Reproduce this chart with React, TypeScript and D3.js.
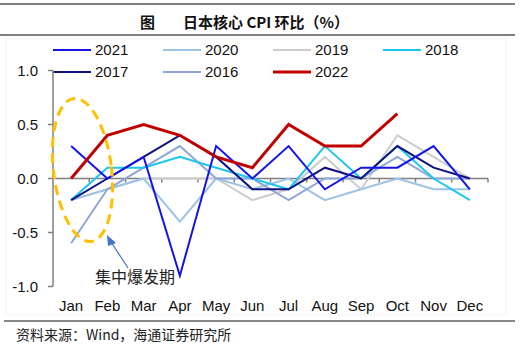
import React from "react";
import * as d3 from "d3";

const months = ["Jan", "Feb", "Mar", "Apr", "May", "Jun", "Jul", "Aug", "Sep", "Oct", "Nov", "Dec"];
const yTicks = [-1.0, -0.5, 0.0, 0.5, 1.0];

const s2021 = [0.3, 0.0, 0.2, -0.9, 0.3, 0.0, 0.3, -0.1, 0.1, 0.1, 0.3, -0.1];
const s2020 = [-0.2, -0.1, 0.0, -0.4, 0.0, -0.1, 0.0, -0.2, -0.1, 0.0, -0.1, -0.1];
const s2019 = [-0.2, -0.1, 0.0, 0.0, 0.0, -0.2, -0.1, 0.2, -0.1, 0.4, 0.2, 0.0];
const s2018 = [-0.2, 0.1, 0.1, 0.2, 0.1, 0.0, -0.1, 0.3, 0.0, 0.3, 0.0, -0.2];
const s2017 = [-0.2, 0.0, 0.2, 0.4, 0.2, -0.1, -0.1, 0.1, 0.0, 0.3, 0.1, 0.0];
const s2016 = [-0.6, -0.1, 0.1, 0.3, 0.0, 0.0, -0.2, 0.0, 0.0, 0.2, 0.0, 0.0];
const s2022 = [0.0, 0.4, 0.5, 0.4, 0.2, 0.1, 0.5, 0.3, 0.3, 0.6];

const seriesNames = ["2021", "2020", "2019", "2018", "2017", "2016", "2022"];
const seriesData = [s2021, s2020, s2019, s2018, s2017, s2016, s2022];
const seriesColors = ["#1414E8", "#9DC3E6", "#CDCDCD", "#1CC6F0", "#101080", "#8FA7D6", "#C00000"];
const seriesWidths = [2, 2, 2, 2, 2, 2, 3];
const drawOrder = [2, 1, 5, 3, 4, 0, 6];

const FONT = "'Liberation Sans', Arial, sans-serif";
const CJK = "'Noto Sans CJK SC', sans-serif";

export default function App() {
  const W = 521, H = 352;
  const x = d3.scaleBand<string>().domain(months).range([53, 488]);
  const y = d3.scaleLinear().domain([-1, 1]).range([286.5, 70.5]);
  const cx = (m: string) => (x(m) as number) + x.bandwidth() / 2;
  const line = d3
    .line<number>()
    .x((_, i) => cx(months[i]))
    .y((d) => y(d));

  const legendPos = [
    [53, 50], [163, 50], [273, 50], [383, 50],
    [53, 72], [163, 72], [273, 72],
  ];

  return (
    <svg width={W} height={H} style={{ position: "absolute", left: 0, top: 0, background: "#fff" }}>
      <rect x={0} y={0} width={W} height={H} fill="#fff" />
      {/* header rules */}
      <line x1={0} x2={515} y1={4} y2={4} stroke="#7f7f7f" strokeWidth={2} />
      <line x1={0} x2={515} y1={35} y2={35} stroke="#7f7f7f" strokeWidth={2} />
      <text x={140} y={28} fontFamily={CJK} fontWeight="bold" fontSize={15} fill="#111">图</text>
      <text x={183} y={28} fontFamily={CJK} fontWeight="bold" fontSize={15} fill="#111">日本核心 CPI 环比（%）</text>
      <rect x={6} y={39} width={500} height={276} fill="none" stroke="#f3f3f3" strokeWidth={1} />

      {/* legend */}
      {seriesNames.map((n, i) => (
        <g key={n}>
          <line x1={legendPos[i][0]} x2={legendPos[i][0] + 38} y1={legendPos[i][1]} y2={legendPos[i][1]}
            stroke={seriesColors[i]} strokeWidth={seriesWidths[i]} />
          <text x={legendPos[i][0] + 42} y={legendPos[i][1] + 5} fontFamily={FONT} fontSize={15} fill="#111">{n}</text>
        </g>
      ))}

      {/* y axis */}
      <line x1={53} x2={53} y1={y(1)} y2={y(-1)} stroke="#808080" strokeWidth={1.5} />
      {yTicks.map((t) => (
        <g key={t}>
          <line x1={48} x2={53} y1={y(t)} y2={y(t)} stroke="#808080" strokeWidth={1.5} />
          <text x={38} y={y(t) + 5} textAnchor="end" fontFamily={FONT} fontSize={15} fill="#111">{t.toFixed(1)}</text>
        </g>
      ))}
      {/* zero axis */}
      <line x1={53} x2={488} y1={y(0)} y2={y(0)} stroke="#808080" strokeWidth={1.5} />
      {months.map((m, i) => (
        <line key={m} x1={(x(m) as number) + x.bandwidth()} x2={(x(m) as number) + x.bandwidth()}
          y1={y(0)} y2={y(0) + 4} stroke="#808080" strokeWidth={1.5} />
      ))}
      {months.map((m) => (
        <text key={m} x={cx(m)} y={311} textAnchor="middle" fontFamily={FONT} fontSize={15} fill="#111">{m}</text>
      ))}

      {/* series */}
      {drawOrder.map((i) => (
        <path key={seriesNames[i]} d={line(seriesData[i]) as string} fill="none"
          stroke={seriesColors[i]} strokeWidth={seriesWidths[i]} strokeLinejoin="miter" />
      ))}

      {/* annotation */}
      <ellipse cx={82.5} cy={170} rx={29} ry={72} transform="rotate(-7 82.5 170)" fill="none"
        stroke="#FFC000" strokeWidth={3} strokeDasharray="10 6" />
      <line x1={128} y1={268} x2={111} y2={242} stroke="#4472C4" strokeWidth={1.2} />
      <path d="M107,235 L116,243 L108,246 Z" fill="#4472C4" />
      <text x={95} y={283} fontFamily={CJK} fontSize={16} fill="#222">集中爆发期</text>

      {/* footer */}
      <line x1={4} x2={515} y1={321} y2={321} stroke="#111" strokeWidth={1.2} />
      <text x={16} y={340} fontFamily={CJK} fontSize={14} fill="#222">资料来源：Wind，海通证券研究所</text>
    </svg>
  );
}
